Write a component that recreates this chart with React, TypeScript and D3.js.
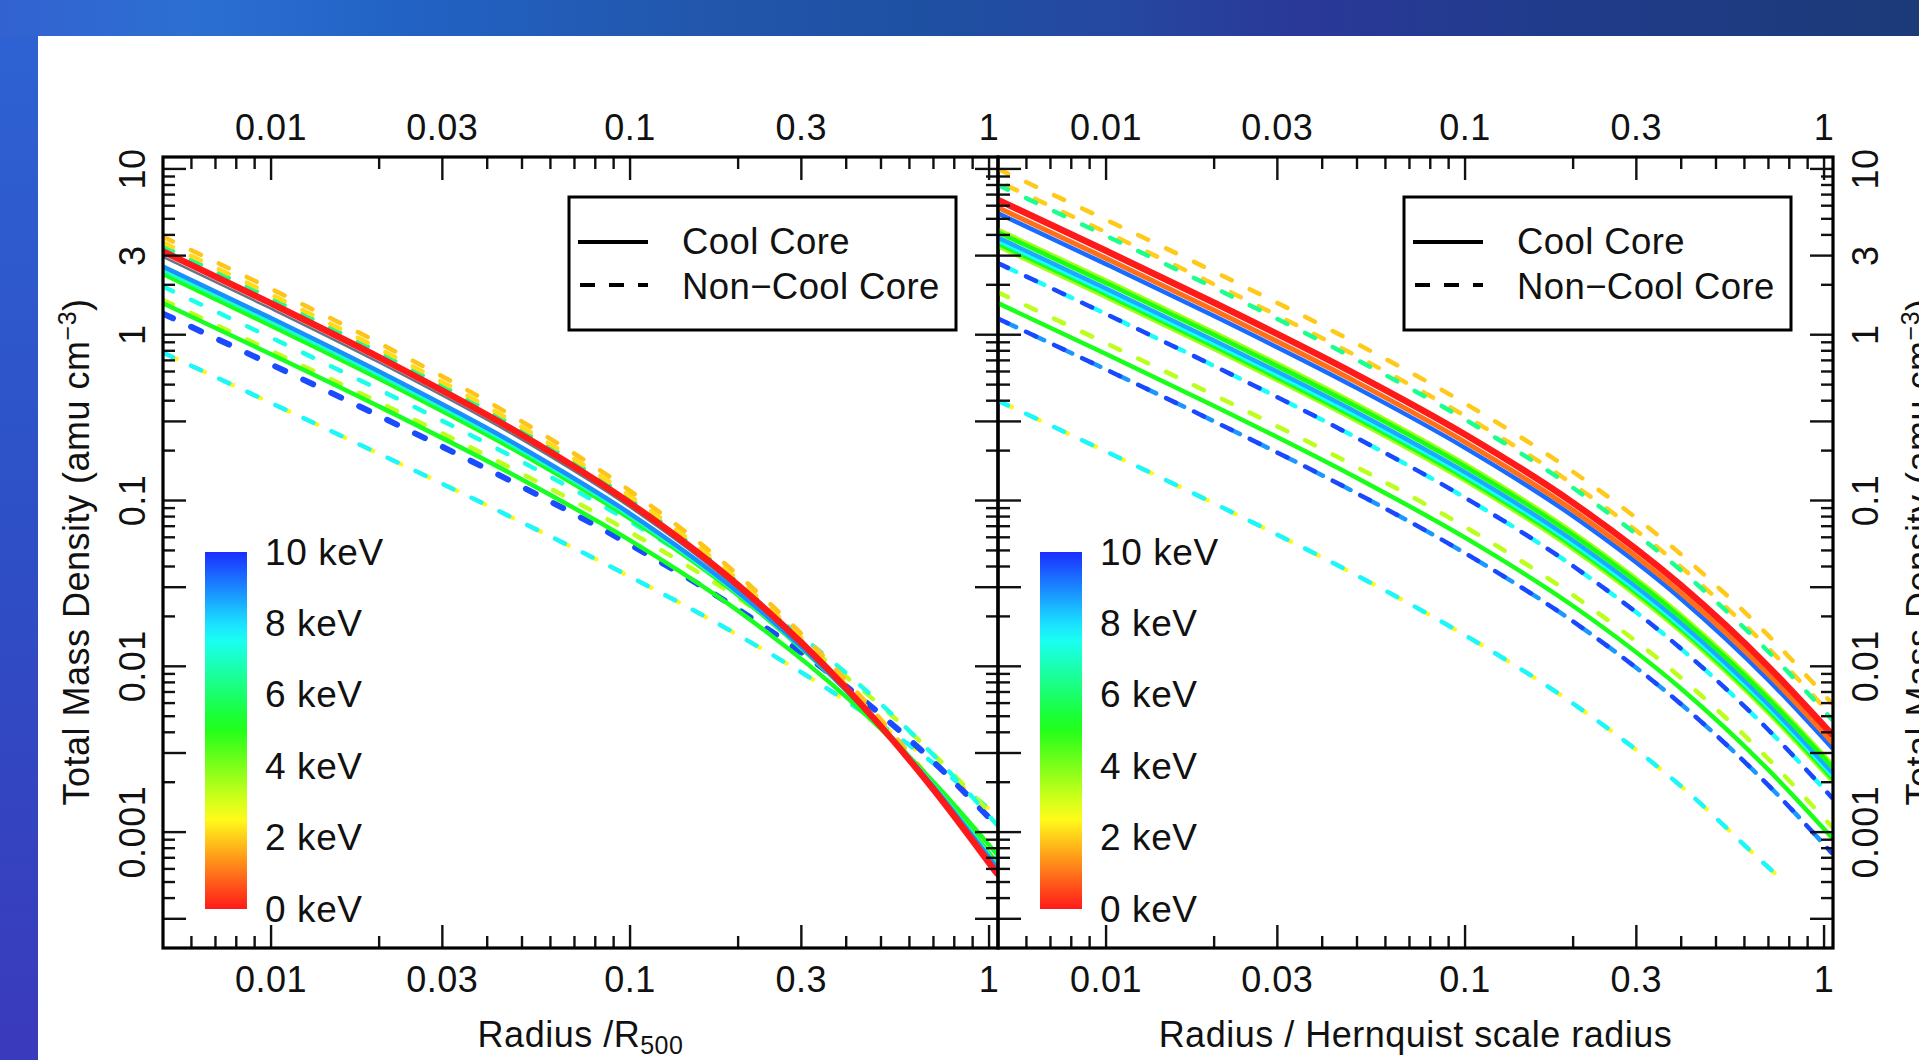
import React from 'react';
import * as d3 from 'd3';

const WIDTH = 1919;
const HEIGHT = 1060;
const FONT = "'Liberation Sans', Arial, Helvetica, sans-serif";

// Sampled radii: left panel in units of R500, right panel in units of the Hernquist scale radius
const radiusR500 = [0.005, 0.01, 0.02, 0.05, 0.1, 0.2, 0.4, 0.7, 1.05];
const radiusScale = [0.005, 0.01, 0.02, 0.05, 0.1, 0.2, 0.4, 0.7, 1.05];
const radiusScaleShort = [0.005, 0.01, 0.02, 0.05, 0.1, 0.2, 0.4, 0.7, 0.78];

// Total mass density (amu cm^-3) against r / R500
const r500NccOrangeA = [3.9, 1.891, 0.8903, 0.2993, 0.1144, 0.03556, 0.00823, 0.001955, 0.000599];
const r500NccOrangeB = [3.6, 1.747, 0.8229, 0.2773, 0.1063, 0.03323, 0.007742, 0.001851, 0.000569];
const r500NccTeal = [3.4, 1.65, 0.7786, 0.2632, 0.1014, 0.03192, 0.007508, 0.00181, 0.00056];
const r500CcRed = [3.18, 1.545, 0.7306, 0.2485, 0.09654, 0.03082, 0.007387, 0.00181, 0.000566];
const r500CcGrey = [2.95, 1.435, 0.6798, 0.2325, 0.09109, 0.02946, 0.007187, 0.001789, 0.000566];
const r500CcSky = [2.58, 1.259, 0.5996, 0.2083, 0.08345, 0.028, 0.007183, 0.001872, 0.000611];
const r500CcCyan = [2.46, 1.201, 0.5733, 0.2002, 0.08086, 0.02748, 0.00718, 0.001903, 0.000629];
const r500CcGreen = [2.32, 1.134, 0.5425, 0.1907, 0.07775, 0.02684, 0.007173, 0.001942, 0.000652];
const r500NccCyan = [1.95, 0.9607, 0.4665, 0.1712, 0.07455, 0.02877, 0.009093, 0.002913, 0.001111];
const r500NccLime = [1.62, 0.8, 0.3902, 0.1451, 0.06451, 0.02582, 0.00865, 0.002952, 0.001185];
const r500NccBlue = [1.34, 0.6624, 0.3237, 0.121, 0.05427, 0.02206, 0.007577, 0.002659, 0.001093];
const r500CcGreenLow = [1.55, 0.7623, 0.3689, 0.134, 0.05746, 0.02159, 0.006543, 0.002006, 0.000739];
const r500NccAqua = [0.78, 0.3876, 0.1914, 0.07378, 0.03472, 0.01543, 0.006178, 0.002602, 0.001258];

// Total mass density (amu cm^-3) against r / a (Hernquist)
const hqNccOrangeA = [10, 4.935, 2.4, 0.882, 0.385, 0.149, 0.0472, 0.0153, 0.006];
const hqNccOrangeB = [8.4, 4.145, 2.016, 0.7409, 0.3234, 0.1252, 0.03965, 0.01285, 0.00504];
const hqNccTeal = [8.0, 3.948, 1.92, 0.7056, 0.308, 0.1192, 0.03776, 0.01224, 0.0048];
const hqCcRed = [6.5, 3.208, 1.56, 0.5733, 0.2503, 0.09685, 0.03068, 0.009945, 0.0039];
const hqCcOrange = [5.85, 2.887, 1.404, 0.516, 0.2252, 0.08717, 0.02761, 0.008951, 0.00351];
const hqCcBlue = [5.4, 2.665, 1.296, 0.4763, 0.2079, 0.08046, 0.02549, 0.008262, 0.00324];
const hqCcLimeA = [4.3, 2.122, 1.032, 0.3793, 0.1656, 0.06407, 0.0203, 0.006579, 0.00258];
const hqCcGreenA = [4.15, 2.048, 0.996, 0.366, 0.1598, 0.06184, 0.01959, 0.00635, 0.00249];
const hqCcSky = [3.85, 1.9, 0.924, 0.3396, 0.1482, 0.05737, 0.01817, 0.00589, 0.00231];
const hqCcCyan = [3.7, 1.826, 0.888, 0.3263, 0.1425, 0.05513, 0.01746, 0.005661, 0.00222];
const hqCcGreenB = [3.55, 1.752, 0.852, 0.3131, 0.1367, 0.0529, 0.01676, 0.005432, 0.00213];
const hqCcLimeB = [3.42, 1.688, 0.8208, 0.3016, 0.1317, 0.05096, 0.01614, 0.005233, 0.002052];
const hqNccBlueCyan = [2.7, 1.332, 0.648, 0.2381, 0.104, 0.04023, 0.01274, 0.004131, 0.00162];
const hqNccLime = [1.8, 0.8883, 0.432, 0.1588, 0.0693, 0.02682, 0.0085, 0.002754, 0.00108];
const hqCcGreenLow = [1.55, 0.765, 0.372, 0.1367, 0.05968, 0.0231, 0.007316, 0.002372, 0.00093];
const hqNccBlueSky = [1.25, 0.6169, 0.3, 0.1103, 0.04813, 0.01863, 0.0059, 0.001913, 0.00075];
const hqNccAqua = [0.4, 0.1974, 0.096, 0.03528, 0.0154, 0.00596, 0.001888, 0.000612, 0.000496];

// Axis ticks and labels
const xMajorTicks = [0.01, 0.03, 0.1, 0.3, 1];
const xTickLabels = ['0.01', '0.03', '0.1', '0.3', '1'];
const yMajorTicks = [10, 3, 1, 0.3, 0.1, 0.03, 0.01, 0.003, 0.001, 0.0003];
const yLabelledTicks = [10, 3, 1, 0.1, 0.01, 0.001];
const yTickLabels = ['10', '3', '1', '0.1', '0.01', '0.001'];
const colourbarValues = [10, 8, 6, 4, 2, 0];
const colourbarLabels = ['10 keV', '8 keV', '6 keV', '4 keV', '2 keV', '0 keV'];

const xDomain: [number, number] = [0.005, 1.059];
const yDomain: [number, number] = [2e-4, 11.8];

const keVColour = (kT: number) => d3.hsl(kT * 23.5, 1, 0.55).formatHex();

type Series = {
  r: number[];
  rho: number[];
  kT: number;
  cool: boolean;
  width?: number;
  phase?: number;
  colour?: string;
};

const leftSeries: Series[] = [
  { r: radiusR500, rho: r500NccAqua, kT: 2.45, cool: false, phase: 4 },
  { r: radiusR500, rho: r500NccAqua, kT: 7.75, cool: false },
  { r: radiusR500, rho: r500NccBlue, kT: 9.65, cool: false, width: 6 },
  { r: radiusR500, rho: r500NccLime, kT: 3.3, cool: false },
  { r: radiusR500, rho: r500NccCyan, kT: 7.4, cool: false },
  { r: radiusR500, rho: r500NccTeal, kT: 6.4, cool: false },
  { r: radiusR500, rho: r500NccOrangeB, kT: 2.15, cool: false },
  { r: radiusR500, rho: r500NccOrangeA, kT: 1.9, cool: false },
  { r: radiusR500, rho: r500CcGreenLow, kT: 5.2, cool: true },
  { r: radiusR500, rho: r500CcGrey, kT: 0, cool: true, width: 2.5, colour: '#6a7284' },
  { r: radiusR500, rho: r500CcGreen, kT: 5.1, cool: true },
  { r: radiusR500, rho: r500CcCyan, kT: 7.0, cool: true },
  { r: radiusR500, rho: r500CcSky, kT: 8.9, cool: true },
  { r: radiusR500, rho: r500CcRed, kT: 0, cool: true, width: 6.5 },
];

const rightSeries: Series[] = [
  { r: radiusScaleShort, rho: hqNccAqua, kT: 2.45, cool: false, phase: 4 },
  { r: radiusScaleShort, rho: hqNccAqua, kT: 7.75, cool: false },
  { r: radiusScale, rho: hqNccBlueSky, kT: 8.8, cool: false, phase: 9 },
  { r: radiusScale, rho: hqNccBlueSky, kT: 9.7, cool: false },
  { r: radiusScale, rho: hqNccLime, kT: 3.3, cool: false },
  { r: radiusScale, rho: hqNccBlueCyan, kT: 7.6, cool: false, phase: 9 },
  { r: radiusScale, rho: hqNccBlueCyan, kT: 9.7, cool: false },
  { r: radiusScale, rho: hqNccOrangeB, kT: 2.0, cool: false, phase: 10 },
  { r: radiusScale, rho: hqNccTeal, kT: 6.4, cool: false },
  { r: radiusScale, rho: hqNccOrangeA, kT: 1.95, cool: false },
  { r: radiusScale, rho: hqCcGreenLow, kT: 5.1, cool: true },
  { r: radiusScale, rho: hqCcLimeB, kT: 3.6, cool: true },
  { r: radiusScale, rho: hqCcGreenB, kT: 5.2, cool: true },
  { r: radiusScale, rho: hqCcCyan, kT: 7.6, cool: true },
  { r: radiusScale, rho: hqCcSky, kT: 8.6, cool: true },
  { r: radiusScale, rho: hqCcLimeA, kT: 3.6, cool: true },
  { r: radiusScale, rho: hqCcGreenA, kT: 5.1, cool: true },
  { r: radiusScale, rho: hqCcBlue, kT: 9.3, cool: true },
  { r: radiusScale, rho: hqCcOrange, kT: 0.95, cool: true, width: 5 },
  { r: radiusScale, rho: hqCcRed, kT: 0, cool: true, width: 6.5 },
];

const TOP = 157;
const BOTTOM = 948;
const AXIS_FONT = 36;
const AXIS_SPACING = 0.5;

function minorTicks(domain: [number, number], majors: number[], lo: number, hi: number) {
  const out: number[] = [];
  for (let k = lo; k <= hi; k++) {
    for (let m = 1; m <= 9; m++) {
      const v = m * Math.pow(10, k);
      if (v <= domain[0] * 1.001 || v >= domain[1] * 0.999) continue;
      if (majors.some((t) => Math.abs(t - v) / v < 1e-6)) continue;
      out.push(v);
    }
  }
  return out;
}

type PanelProps = {
  x0: number;
  x1: number;
  series: Series[];
  id: string;
  labelSide: 'left' | 'right';
  title: React.ReactNode;
};

function Panel({ x0, x1, series, id, labelSide, title }: PanelProps) {
  const xs = d3.scaleLog().domain(xDomain).range([x0, x1]);
  const ys = d3.scaleLog().domain(yDomain).range([BOTTOM, TOP]);
  const line = d3
    .line<[number, number]>()
    .x((d) => xs(d[0]))
    .y((d) => ys(d[1]))
    .curve(d3.curveMonotoneX);

  const xMinor = minorTicks(xDomain, xMajorTicks, -3, 0);
  const yMinor = minorTicks(yDomain, yMajorTicks, -4, 1);
  const majorLen = 23;
  const minorLen = 12;
  const tickStroke = 2.4;

  const legendX = x0 + 406;
  const barX = x0 + 42;
  const barTop = 552;
  const barBottom = 909;
  const cb = d3.scaleLinear().domain([0, 10]).range([barBottom, barTop]);

  return (
    <g>
      <defs>
        <clipPath id={`clip-${id}`}>
          <rect x={x0} y={TOP} width={x1 - x0} height={BOTTOM - TOP} />
        </clipPath>
      </defs>

      {/* density profiles */}
      <g clipPath={`url(#clip-${id})`} fill="none" strokeLinecap="round" strokeLinejoin="round">
        {series.map((s, i) => {
          const pts = s.r.map((r, j) => [r, s.rho[j]] as [number, number]);
          return (
            <path
              key={i}
              d={line(pts) || ''}
              stroke={s.colour || keVColour(s.kT)}
              strokeWidth={s.width || 4.5}
              strokeDasharray={s.cool ? undefined : '11 20'}
              strokeDashoffset={s.phase ? -s.phase : 0}
            />
          );
        })}
      </g>

      {/* ticks on all four sides, pointing inward */}
      <g stroke="#111" strokeWidth={tickStroke}>
        {xMajorTicks.map((v) => (
          <g key={`xm${v}`}>
            <line x1={xs(v)} x2={xs(v)} y1={TOP} y2={TOP + majorLen} />
            <line x1={xs(v)} x2={xs(v)} y1={BOTTOM} y2={BOTTOM - majorLen} />
          </g>
        ))}
        {xMinor.map((v) => (
          <g key={`xn${v}`}>
            <line x1={xs(v)} x2={xs(v)} y1={TOP} y2={TOP + minorLen} />
            <line x1={xs(v)} x2={xs(v)} y1={BOTTOM} y2={BOTTOM - minorLen} />
          </g>
        ))}
        {yMajorTicks.map((v) => (
          <g key={`ym${v}`}>
            <line x1={x0} x2={x0 + majorLen} y1={ys(v)} y2={ys(v)} />
            <line x1={x1} x2={x1 - majorLen} y1={ys(v)} y2={ys(v)} />
          </g>
        ))}
        {yMinor.map((v) => (
          <g key={`yn${v}`}>
            <line x1={x0} x2={x0 + minorLen} y1={ys(v)} y2={ys(v)} />
            <line x1={x1} x2={x1 - minorLen} y1={ys(v)} y2={ys(v)} />
          </g>
        ))}
      </g>

      {/* frame */}
      <rect x={x0} y={TOP} width={x1 - x0} height={BOTTOM - TOP} fill="none" stroke="#000" strokeWidth={3.2} />

      {/* x tick labels, top and bottom */}
      <g fontSize={AXIS_FONT} letterSpacing={AXIS_SPACING} textAnchor="middle" fill="#111">
        {xMajorTicks.map((v, i) => (
          <g key={`xl${v}`}>
            <text x={xs(v)} y={139.5}>{xTickLabels[i]}</text>
            <text x={xs(v)} y={992}>{xTickLabels[i]}</text>
          </g>
        ))}
      </g>

      {/* y tick labels */}
      <g fontSize={AXIS_FONT} letterSpacing={AXIS_SPACING} textAnchor="middle" fill="#111">
        {yLabelledTicks.map((v, i) => {
          const bx = labelSide === 'left' ? x0 - 18 : x1 + 45;
          return (
            <text key={`yl${v}`} transform={`translate(${bx},${ys(v)}) rotate(-90)`}>
              {yTickLabels[i]}
            </text>
          );
        })}
      </g>

      {/* x axis title */}
      <text
        x={(x0 + x1) / 2}
        y={1047}
        fontSize={AXIS_FONT}
        letterSpacing={AXIS_SPACING}
        textAnchor="middle"
        fill="#111"
      >
        {title}
      </text>

      {/* legend */}
      <rect x={legendX} y={197} width={387} height={133} fill="#fff" stroke="#000" strokeWidth={3} />
      <line x1={legendX + 9} x2={legendX + 79} y1={242} y2={242} stroke="#000" strokeWidth={4} />
      <line
        x1={legendX + 11}
        x2={legendX + 79}
        y1={285}
        y2={285}
        stroke="#000"
        strokeWidth={4}
        strokeDasharray="15 14"
      />
      <g fontSize={36.5} letterSpacing={0.4} fill="#111">
        <text x={legendX + 113} y={254}>Cool Core</text>
        <text x={legendX + 113} y={299}>Non−Cool Core</text>
      </g>

      {/* temperature colour bar */}
      <rect x={barX} y={barTop} width={42} height={barBottom - barTop} fill="url(#keVGradient)" />
      <g fontSize={37} letterSpacing={0.6} fill="#111">
        {colourbarValues.map((v, i) => (
          <text key={`cb${v}`} x={x0 + 102} y={cb(v) + 12.5}>
            {colourbarLabels[i]}
          </text>
        ))}
      </g>
    </g>
  );
}

export default function App() {
  const stops = d3.range(0, 10.01, 0.5);
  const yTitle = (
    <>
      Total Mass Density (amu cm
      <tspan dy={-13} fontSize={25}>−3</tspan>
      <tspan dy={13}>)</tspan>
    </>
  );
  return (
    <svg
      width={WIDTH}
      height={HEIGHT}
      viewBox={`0 0 ${WIDTH} ${HEIGHT}`}
      style={{ position: 'absolute', left: 0, top: 0, display: 'block' }}
      fontFamily={FONT}
    >
      <defs>
        <linearGradient id="bannerGradient" x1="0" y1="0" x2="1" y2="0">
          <stop offset="0" stopColor="#3362d0" />
          <stop offset="0.1" stopColor="#2c6fd2" />
          <stop offset="0.2" stopColor="#2263c6" />
          <stop offset="0.36" stopColor="#2257ad" />
          <stop offset="0.48" stopColor="#1e50a2" />
          <stop offset="0.58" stopColor="#2548a0" />
          <stop offset="0.68" stopColor="#2a3898" />
          <stop offset="0.8" stopColor="#213b8c" />
          <stop offset="1" stopColor="#1c3a78" />
        </linearGradient>
        <linearGradient id="stripGradient" x1="0" y1="0" x2="0" y2="1">
          <stop offset="0" stopColor="#2e62d2" />
          <stop offset="0.5" stopColor="#2e4fc6" />
          <stop offset="1" stopColor="#3a3abc" />
        </linearGradient>
        <linearGradient id="keVGradient" x1="0" y1="1" x2="0" y2="0">
          {stops.map((v) => (
            <stop key={v} offset={v / 10} stopColor={keVColour(v)} />
          ))}
        </linearGradient>
      </defs>

      <rect x={0} y={0} width={WIDTH} height={36} fill="url(#bannerGradient)" />
      <rect x={0} y={36} width={38} height={HEIGHT - 36} fill="url(#stripGradient)" />
      <rect x={38} y={36} width={WIDTH - 38} height={HEIGHT - 36} fill="#fff" />

      <Panel
        x0={163}
        x1={998}
        series={leftSeries}
        id="r500"
        labelSide="left"
        title={
          <>
            Radius /R<tspan dy={7} fontSize={25}>500</tspan>
          </>
        }
      />
      <Panel
        x0={998}
        x1={1833}
        series={rightSeries}
        id="hernquist"
        labelSide="right"
        title={<>Radius / Hernquist scale radius</>}
      />

      <text
        transform="translate(89,552) rotate(-90)"
        fontSize={AXIS_FONT}
        letterSpacing={AXIS_SPACING}
        textAnchor="middle"
        fill="#111"
      >
        {yTitle}
      </text>
      <text
        transform="translate(1932,552) rotate(-90)"
        fontSize={AXIS_FONT}
        letterSpacing={AXIS_SPACING}
        textAnchor="middle"
        fill="#111"
      >
        {yTitle}
      </text>
    </svg>
  );
}
